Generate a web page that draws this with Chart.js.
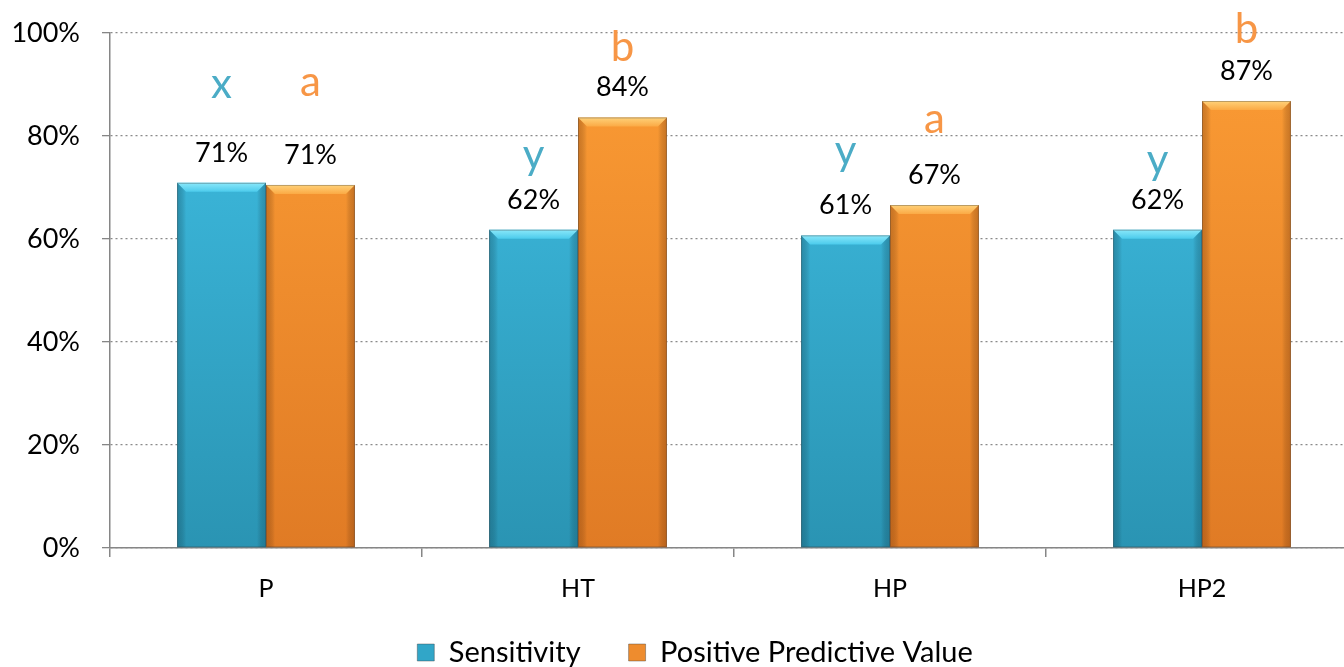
<!DOCTYPE html>
<html>
<head>
<meta charset="utf-8">
<script src="https://cdn.jsdelivr.net/npm/chart.js@4"></script>
<style>
  html, body { margin: 0; padding: 0; background: #fff; overflow: hidden; }
</style>
</head>
<body>
<canvas id="sensChart" width="1370" height="667"></canvas>
<script>
const categories = ['P', 'HT', 'HP', 'HP2'];
const sensitivity = [70.9, 61.8, 60.7, 61.8];
const ppv = [70.5, 83.6, 66.6, 86.8];
const sensLetters = ['x', 'y', 'y', 'y'];
const ppvLetters = ['a', 'b', 'a', 'b'];
const yTicks = [0, 20, 40, 60, 80, 100];

// how far each significance letter sits above its bar (baseline, px)
const sensLetterGap = [85, 61, 70, 56];
const ppvLetterGap = [89, 56, 72, 58];

const FONT = 'Lato, "Open Sans", sans-serif';

const palettes = [
    { top: '#40c0e5', bottom: '#2a94b3', light: '#8ae8fa', lightEnd: '#4ccbec', edge: 'rgba(20,80,100,0.35)', letter: '#4bacc6', flat: '#31a6c8' },
    { top: '#fc9d35', bottom: '#e07b25', light: '#ffd27a', lightEnd: '#fbaa45', edge: 'rgba(130,60,10,0.35)', letter: '#f79646', flat: '#ee8c2e' }
];

function barFill(idx) {
    return function (context) {
        const chart = context.chart;
        const area = chart.chartArea;
        const pal = palettes[idx];
        if (!area) return pal.flat;
        const g = chart.ctx.createLinearGradient(0, area.top, 0, area.bottom);
        g.addColorStop(0, pal.top);
        g.addColorStop(1, pal.bottom);
        return g;
    };
}

// bevelled top and shaded sides on every bar
const bevelPlugin = {
    id: 'bevel',
    afterDatasetsDraw(chart) {
        const ctx = chart.ctx;
        chart.data.datasets.forEach((ds, i) => {
            const pal = palettes[i];
            chart.getDatasetMeta(i).data.forEach(bar => {
                const left = bar.x - bar.width / 2;
                const right = bar.x + bar.width / 2;
                const top = bar.y;
                const bottom = bar.base;
                const b = 9;
                ctx.save();
                let g = ctx.createLinearGradient(0, top, 0, top + b);
                g.addColorStop(0, pal.light);
                g.addColorStop(1, pal.lightEnd);
                ctx.fillStyle = g;
                ctx.beginPath();
                ctx.moveTo(left, top);
                ctx.lineTo(right, top);
                ctx.lineTo(right - b, top + b);
                ctx.lineTo(left + b, top + b);
                ctx.closePath();
                ctx.fill();

                g = ctx.createLinearGradient(left, 0, left + b, 0);
                g.addColorStop(0, pal.edge);
                g.addColorStop(1, 'rgba(0,0,0,0)');
                ctx.fillStyle = g;
                ctx.beginPath();
                ctx.moveTo(left, top);
                ctx.lineTo(left + b, top + b);
                ctx.lineTo(left + b, bottom);
                ctx.lineTo(left, bottom);
                ctx.closePath();
                ctx.fill();

                g = ctx.createLinearGradient(right, 0, right - b, 0);
                g.addColorStop(0, pal.edge);
                g.addColorStop(1, 'rgba(0,0,0,0)');
                ctx.fillStyle = g;
                ctx.beginPath();
                ctx.moveTo(right, top);
                ctx.lineTo(right - b, top + b);
                ctx.lineTo(right - b, bottom);
                ctx.lineTo(right, bottom);
                ctx.closePath();
                ctx.fill();

                ctx.strokeStyle = 'rgba(60,60,60,0.35)';
                ctx.lineWidth = 1;
                ctx.strokeRect(left + 0.5, top + 0.5, bar.width - 1, bottom - top - 1);
                ctx.restore();
            });
        });
    }
};

// percent labels and significance letters above the bars
const labelPlugin = {
    id: 'barLabels',
    afterDatasetsDraw(chart) {
        const ctx = chart.ctx;
        const letters = [sensLetters, ppvLetters];
        const gaps = [sensLetterGap, ppvLetterGap];
        ctx.save();
        ctx.textAlign = 'center';
        ctx.textBaseline = 'alphabetic';
        chart.data.datasets.forEach((ds, i) => {
            chart.getDatasetMeta(i).data.forEach((bar, j) => {
                ctx.fillStyle = '#000';
                ctx.font = '27px ' + FONT;
                ctx.fillText(Math.round(ds.data[j]) + '%', bar.x, bar.y - 21);
                ctx.fillStyle = palettes[i].letter;
                ctx.font = '42px ' + FONT;
                ctx.fillText(letters[i][j], bar.x, bar.y - gaps[i][j]);
            });
        });
        ctx.restore();
    }
};

// let the category labels spill below their box, nudge the legend right
const layoutTweaks = {
    id: 'layoutTweaks',
    afterLayout(chart) {
        chart.scales.x.bottom = chart.height;
        chart.legend.left += 16;
        chart.legend.right += 16;
    }
};

const ctx = document.getElementById('sensChart').getContext('2d');

new Chart(ctx, {
    type: 'bar',
    data: {
        labels: categories,
        datasets: [
            { label: 'Sensitivity', data: sensitivity, backgroundColor: barFill(0) },
            { label: 'Positive Predictive Value', data: ppv, backgroundColor: barFill(1) }
        ]
    },
    options: {
        responsive: false,
        animation: false,
        categoryPercentage: 0.57,
        barPercentage: 1.0,
        layout: { padding: { top: 33, right: 12, left: 0, bottom: 0 } },
        plugins: {
            tooltip: { enabled: false },
            legend: {
                position: 'bottom',
                maxHeight: 77,
                labels: {
                    font: { family: FONT, size: 29 },
                    color: '#000',
                    boxWidth: 17,
                    boxHeight: 17,
                    padding: 48,
                    generateLabels: () => palettes.map((p, i) => ({
                        text: i === 0 ? 'Sensitivity' : 'Positive Predictive Value',
                        fillStyle: p.flat,
                        strokeStyle: 'rgba(60,60,60,0.4)',
                        lineWidth: 1,
                        datasetIndex: i
                    }))
                }
            }
        },
        scales: {
            x: {
                afterFit: scale => { scale.height = 42; },
                grid: {
                    offset: true,
                    drawOnChartArea: false,
                    tickLength: 9,
                    tickColor: '#868686',
                    lineWidth: 1.5
                },
                border: { color: '#868686', width: 1.5 },
                ticks: {
                    color: '#000',
                    padding: 17,
                    font: { family: FONT, size: 25 }
                }
            },
            y: {
                min: 0,
                max: 100,
                afterFit: scale => {
                    scale.width = 110;
                    scale.paddingTop = 0;
                    scale.paddingBottom = 0;
                },
                afterBuildTicks: scale => { scale.ticks = yTicks.map(v => ({ value: v })); },
                grid: {
                    color: '#8a8a8a',
                    lineWidth: 1.3,
                    tickLength: 8,
                    tickColor: '#868686',
                    tickBorderDash: []
                },
                border: { color: '#868686', width: 1.5, dash: [2, 3] },
                ticks: {
                    color: '#000',
                    padding: 22,
                    font: { family: FONT, size: 27 },
                    callback: v => v + '%'
                }
            }
        }
    },
    plugins: [bevelPlugin, labelPlugin, layoutTweaks]
});
</script>
</body>
</html>
